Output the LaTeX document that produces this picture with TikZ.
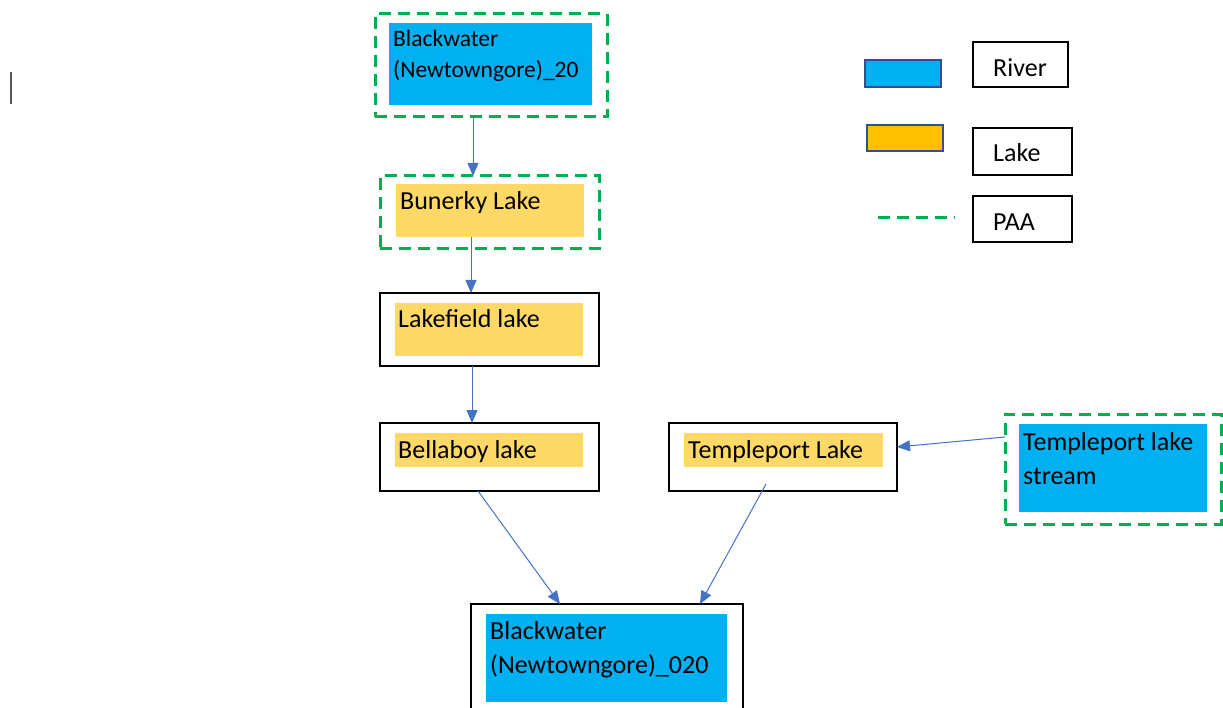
\documentclass[tikz,border=0pt]{standalone}
\usepackage{fontspec}
\setmainfont{Carlito}
\usetikzlibrary{arrows.meta}
\definecolor{riverblue}{HTML}{00B0F0}
\definecolor{lakeyellow}{HTML}{FFD966}
\definecolor{keyyellow}{HTML}{FFC000}
\definecolor{keyedge}{HTML}{2F528F}
\definecolor{paagreen}{HTML}{00B050}
\definecolor{flowblue}{HTML}{4472C4}
\tikzset{
  frame/.style={draw=black, line width=2pt, inner sep=0pt},
  paa/.style={draw=paagreen, line width=3pt, dash pattern=on 12pt off 7pt},
  box/.style={inner sep=0pt, outer sep=0pt},
  lbl/.style={anchor=base west, inner sep=0pt, align=left,
    font=\fontsize{26}{33.5}\selectfont},
  smalllbl/.style={lbl, font=\fontsize{23.5}{31}\selectfont},
  flow/.style={draw=flowblue, line width=1pt,
    -{Triangle[width=11pt,length=13pt]}},
}
\begin{document}
\begin{tikzpicture}[x=1pt,y=-1pt]
\useasboundingbox (0,0) rectangle (1223,708);

% text cursor mark
\draw[gray!70!black, line width=1.5pt] (11,72) -- (11,104);

% ---- water bodies ----
% Blackwater (Newtowngore)_20
\fill[riverblue] (389,23) rectangle (592,105);
\node[box, paa, minimum width=232pt, minimum height=103pt] (top) at (491,65.5) {};
\node[smalllbl] (toptxt) at (393,78) {Blackwater\\(Newtowngore)\_20};

% Bunerky Lake
\fill[lakeyellow] (396,184) rectangle (584,237);
\node[box, paa, minimum width=219pt, minimum height=73pt] (bunerky) at (489.5,212.5) {};
\node[lbl] (bunerkytxt) at (400,210) {Bunerky Lake};

% Lakefield lake
\node[box, frame, minimum width=219pt, minimum height=73pt] (lakefield) at (489.5,329.5) {};
\fill[lakeyellow] (395,303) rectangle (583,356);
\node[lbl] (lakefieldtxt) at (398,328) {Lakefield lake};

% Bellaboy lake
\node[box, frame, minimum width=219pt, minimum height=68pt] (bellaboy) at (489.5,457) {};
\fill[lakeyellow] (395,433) rectangle (583,467);
\node[lbl] (bellaboytxt) at (398,458) {Bellaboy lake};

% Templeport Lake
\node[box, frame, minimum width=228pt, minimum height=68pt] (templeport) at (783,457) {};
\fill[lakeyellow] (684,433) rectangle (883,467);
\node[lbl] (templeporttxt) at (688,458) {Templeport Lake};

% Templeport lake stream
\fill[riverblue] (1019,424) rectangle (1207,512);
\node[box, paa, minimum width=216pt, minimum height=110pt] (stream) at (1113,469) {};
\node[lbl] (streamtxt) at (1023,484) {Templeport lake\\stream};

% Blackwater (Newtowngore)_020
\node[box, frame, minimum width=272pt, minimum height=116pt] (bottom) at (607,662) {};
\fill[riverblue] (486,614) rectangle (727,702);
\node[lbl] (bottomtxt) at (490,673) {Blackwater\\(Newtowngore)\_020};

% ---- flow connections ----
\draw[flow] ([xshift=-18pt]top.south) -- ([xshift=-16.5pt]bunerky.north);
\draw[flow] ([xshift=-18.5pt,yshift=12pt]bunerky.south) -- ([xshift=-18.5pt]lakefield.north);
\draw[flow] ([xshift=-17.5pt]lakefield.south) -- ([xshift=-17.5pt]bellaboy.north);
\draw[flow] ([xshift=-11.5pt]bellaboy.south) -- ([xshift=-47pt]bottom.north);
\draw[flow] ([xshift=-17pt,yshift=7pt]templeport.south) -- ([xshift=93pt]bottom.north);
\draw[flow] ([yshift=32pt]stream.west) -- ([yshift=10pt]templeport.east);

% ---- key ----
\node[box, draw=keyedge, line width=1.5pt, fill=riverblue,
  minimum width=76pt, minimum height=27pt] (keyriver) at (903,73.5) {};
\node[box, draw=keyedge, line width=1.5pt, fill=keyyellow,
  minimum width=76pt, minimum height=26pt] (keylake) at (905,138) {};
\coordinate (keypaaA) at (878,218);
\coordinate (keypaaB) at (955,218);
\draw[paa] (keypaaA) -- (keypaaB);

\node[box, frame, minimum width=95pt, minimum height=45pt] (riverbox) at (1020.5,64.5) {};
\node[lbl] (rivertxt) at (993,77) {River};
\node[box, frame, minimum width=99pt, minimum height=47pt] (lakebox) at (1022.5,151.5) {};
\node[lbl] (laketxt) at (993,162) {Lake};
\node[box, frame, minimum width=99pt, minimum height=46pt] (paabox) at (1022.5,219) {};
\node[lbl] (paatxt) at (993,231) {PAA};
\end{tikzpicture}
\end{document}
